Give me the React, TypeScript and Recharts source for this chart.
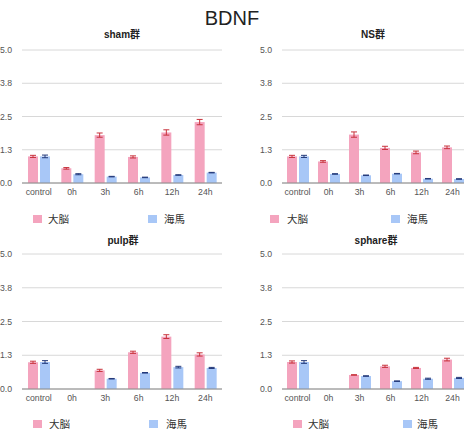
import React from "react"
import { Bar, BarChart, CartesianGrid, ErrorBar, XAxis, YAxis } from "recharts"

// time points shared by every group
const categories = ["control", "0h", "3h", "6h", "12h", "24h"]
const yTicks = [0, 1.25, 2.5, 3.75, 5]

const seriesNames = ["大脳", "海馬"]

// sham群
const shamBrain = [1.0, 0.55, 1.8, 0.98, 1.9, 2.29]
const shamBrainErr = [0.04, 0.03, 0.08, 0.04, 0.1, 0.1]
const shamHippo = [1.0, 0.33, 0.24, 0.21, 0.3, 0.39]
const shamHippoErr = [0.05, 0.02, 0.01, 0.01, 0.01, 0.01]

// NS群
const nsBrain = [1.0, 0.81, 1.82, 1.32, 1.15, 1.34]
const nsBrainErr = [0.04, 0.03, 0.1, 0.06, 0.05, 0.05]
const nsHippo = [1.0, 0.34, 0.29, 0.35, 0.16, 0.15]
const nsHippoErr = [0.04, 0.01, 0.01, 0.01, 0.01, 0.01]

// pulp群 (no 0h measurement)
const pulpBrain = [0.99, null, 0.69, 1.36, 1.94, 1.28]
const pulpBrainErr = [0.04, null, 0.04, 0.04, 0.07, 0.06]
const pulpHippo = [1.0, null, 0.38, 0.6, 0.81, 0.78]
const pulpHippoErr = [0.05, null, 0.01, 0.01, 0.03, 0.02]

// sphare群 (no 0h measurement)
const sphareBrain = [1.0, null, 0.52, 0.84, 0.78, 1.09]
const sphareBrainErr = [0.04, null, 0.01, 0.04, 0.02, 0.05]
const sphareHippo = [1.0, null, 0.48, 0.29, 0.38, 0.41]
const sphareHippoErr = [0.05, null, 0.01, 0.01, 0.02, 0.02]

const PINK = "#f4a4be"
const BLUE = "#a8c7f7"
const PINK_ERR = "#c8323c"
const BLUE_ERR = "#22397a"
const FONT = "'Liberation Sans', Arial, 'Noto Sans CJK JP', sans-serif"

type Num = number | null

function rows(brain: Num[], brainErr: Num[], hippo: Num[], hippoErr: Num[]) {
  return categories.map((name, i) => ({
    name,
    brain: brain[i],
    brainErr: brainErr[i],
    hippo: hippo[i],
    hippoErr: hippoErr[i],
  }))
}

const panels = [
  {
    title: "sham群",
    data: rows(shamBrain, shamBrainErr, shamHippo, shamHippoErr),
    left: 0, top: 0, width: 222, height: 216, yWidth: 22, mTop: 50, mBottom: 13,
    titleX: 122, titleY: 29,
    legendY: 214, legend: [33, 48, 148, 164],
  },
  {
    title: "NS群",
    data: rows(nsBrain, nsBrainErr, nsHippo, nsHippoErr),
    left: 232, top: 0, width: 236, height: 216, yWidth: 50, mTop: 50, mBottom: 13,
    titleX: 373, titleY: 29,
    legendY: 214, legend: [270, 287, 391, 407],
  },
  {
    title: "pulp群",
    data: rows(pulpBrain, pulpBrainErr, pulpHippo, pulpHippoErr),
    left: 0, top: 216, width: 222, height: 216, yWidth: 22, mTop: 38, mBottom: 23,
    titleX: 123, titleY: 235,
    legendY: 419, legend: [33, 49, 149, 166],
  },
  {
    title: "sphare群",
    data: rows(sphareBrain, sphareBrainErr, sphareHippo, sphareHippoErr),
    left: 232, top: 216, width: 236, height: 216, yWidth: 50, mTop: 38, mBottom: 23,
    titleX: 376, titleY: 235,
    legendY: 419, legend: [293, 308, 403, 417],
  },
]

const abs = (left: number, top: number): React.CSSProperties => ({
  position: "absolute",
  left,
  top,
})

export default function App() {
  return (
    <div
      style={{
        position: "absolute",
        left: 0,
        top: 0,
        width: 464,
        height: 432,
        overflow: "hidden",
        background: "#fff",
        fontFamily: FONT,
      }}
    >
      <div
        style={{
          ...abs(0, 8),
          width: 464,
          textAlign: "center",
          fontSize: 20,
          lineHeight: "20px",
          color: "#222",
        }}
      >
        BDNF
      </div>

      {panels.map((p) => (
        <React.Fragment key={p.title}>
          <div style={{ ...abs(p.left, p.top) }}>
            <BarChart
              width={p.width}
              height={p.height}
              data={p.data}
              margin={{ top: p.mTop, right: 0, bottom: p.mBottom, left: 0 }}
              barSize={10}
              barGap={2}
            >
              <CartesianGrid vertical={false} stroke="#d8d8d8" />
              <XAxis
                dataKey="name"
                height={20}
                tickLine={false}
                tickSize={0}
                tickMargin={6}
                axisLine={{ stroke: "#8a8a8a" }}
                tick={{ fontSize: 8.7, fill: "#555", fontFamily: FONT }}
                interval={0}
              />
              <YAxis
                width={p.yWidth}
                domain={[0, 5]}
                ticks={yTicks}
                tickFormatter={(v: number) => v.toFixed(1)}
                tickLine={false}
                axisLine={false}
                tickSize={0}
                tickMargin={10}
                tick={{ fontSize: 8.7, fill: "#555", fontFamily: FONT }}
              />
              <Bar dataKey="brain" name={seriesNames[0]} fill={PINK} isAnimationActive={false}>
                <ErrorBar dataKey="brainErr" width={3} stroke={PINK_ERR} strokeWidth={1} />
              </Bar>
              <Bar dataKey="hippo" name={seriesNames[1]} fill={BLUE} isAnimationActive={false}>
                <ErrorBar dataKey="hippoErr" width={3} stroke={BLUE_ERR} strokeWidth={1} />
              </Bar>
            </BarChart>
          </div>

          <div
            style={{
              ...abs(p.titleX - 60, p.titleY),
              width: 120,
              textAlign: "center",
              fontSize: 10,
              lineHeight: "12px",
              fontWeight: "bold",
              color: "#222",
            }}
          >
            {p.title}
          </div>

          {[PINK, BLUE].map((color, i) => (
            <React.Fragment key={color}>
              <div
                style={{
                  ...abs(p.legend[i * 2], p.legendY + 1),
                  width: 9,
                  height: 8,
                  background: color,
                }}
              />
              <div
                style={{
                  ...abs(p.legend[i * 2 + 1], p.legendY - 1),
                  fontSize: 10.5,
                  lineHeight: "12px",
                  color: "#333",
                  whiteSpace: "nowrap",
                }}
              >
                {seriesNames[i]}
              </div>
            </React.Fragment>
          ))}
        </React.Fragment>
      ))}
    </div>
  )
}
